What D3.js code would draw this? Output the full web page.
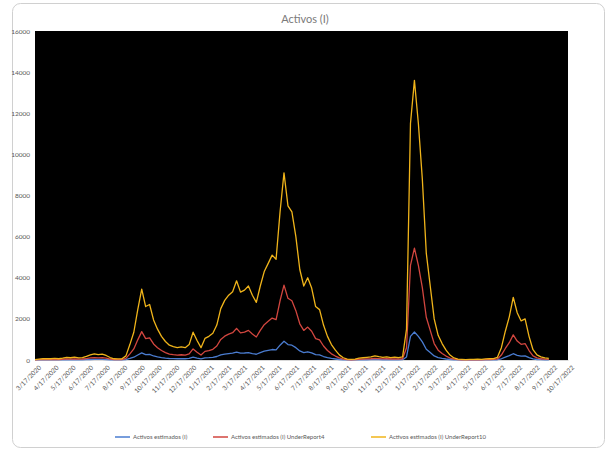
<!DOCTYPE html>
<html>
<head>
<meta charset="utf-8">
<script src="https://cdn.jsdelivr.net/npm/d3@7"></script>
<style>
  html, body { margin: 0; padding: 0; background: #ffffff; }
  svg { display: block; font-family: Lato, "Liberation Sans", sans-serif; }
</style>
</head>
<body>
<svg id="chart" width="607" height="451"></svg>
<script>
// Weekly samples (Tuesdays) starting 3/17/2020
const startDate = new Date(2020, 2, 17);
const endDate = new Date(2022, 8, 14);

const activos = [
  2, 4, 6, 7, 6, 8, 6, 9, 13, 11, 14, 10, 12, 18, 25, 30, 26, 29, 22, 12,
  6, 5, 6, 20, 75, 135, 245, 345, 260, 270, 195, 150, 115, 90, 72, 65, 60, 64, 60, 75,
  135, 95, 60, 105, 115, 130, 170, 250, 290, 315, 332, 385, 330, 340, 360, 315, 280, 360, 430, 470,
  510, 490, 720, 910, 750, 720, 600, 440, 360, 400, 350, 260, 245, 170, 115, 75, 48, 25, 11, 4,
  3, 4, 9, 11, 13, 15, 20, 16, 13, 15, 12, 14, 11, 15, 150, 1150, 1360, 1150, 880, 520,
  360, 200, 120, 80, 48, 24, 10, 4, 3, 2, 3, 3, 4, 3, 5, 6, 7, 13, 60, 140,
  210, 305, 230, 190, 200, 115, 50, 25, 15, 10, 8
];

const activosUR4 = [
  8, 16, 24, 28, 24, 32, 24, 36, 52, 44, 56, 40, 48, 72, 100, 120, 104, 116, 88, 48,
  24, 20, 24, 80, 300, 540, 980, 1380, 1040, 1080, 780, 600, 460, 360, 288, 260, 240, 256, 240, 300,
  540, 380, 240, 420, 460, 520, 680, 1000, 1160, 1260, 1328, 1540, 1320, 1360, 1440, 1260, 1120, 1440, 1720, 1880,
  2040, 1960, 2880, 3640, 3000, 2880, 2400, 1760, 1440, 1600, 1400, 1040, 980, 680, 460, 300, 192, 100, 44, 16,
  12, 16, 36, 44, 52, 60, 80, 64, 52, 60, 48, 56, 44, 60, 600, 4600, 5440, 4600, 3520, 2080,
  1440, 800, 480, 320, 192, 96, 40, 16, 12, 8, 12, 12, 16, 12, 20, 24, 28, 52, 240, 560,
  840, 1220, 920, 760, 800, 460, 200, 100, 60, 40, 32
];

const activosUR10 = [
  20, 40, 60, 70, 60, 80, 60, 90, 130, 110, 140, 100, 120, 180, 250, 300, 260, 290, 220, 120,
  60, 50, 60, 200, 750, 1350, 2450, 3450, 2600, 2700, 1950, 1500, 1150, 900, 720, 650, 600, 640, 600, 750,
  1350, 950, 600, 1050, 1150, 1300, 1700, 2500, 2900, 3150, 3320, 3850, 3300, 3400, 3600, 3150, 2800, 3600, 4300, 4700,
  5100, 4900, 7200, 9100, 7500, 7200, 6000, 4400, 3600, 4000, 3500, 2600, 2450, 1700, 1150, 750, 480, 250, 110, 40,
  30, 40, 90, 110, 130, 150, 200, 160, 130, 150, 120, 140, 110, 150, 1500, 11500, 13600, 11500, 8800, 5200,
  3600, 2000, 1200, 800, 480, 240, 100, 40, 30, 20, 30, 30, 40, 30, 50, 60, 70, 130, 600, 1400,
  2100, 3050, 2300, 1900, 2000, 1150, 500, 250, 150, 100, 80
];

const seriesNames = [
  "Activos estimados (I)",
  "Activos estimados (I) UnderReport4",
  "Activos estimados (I) UnderReport10"
];
const seriesColors = ["#4a7cd0", "#d2463f", "#f0b41a"];

const tickLabels = [
  "3/17/2020", "4/17/2020", "5/17/2020", "6/17/2020", "7/17/2020", "8/17/2020", "9/17/2020",
  "10/17/2020", "11/17/2020", "12/17/2020", "1/17/2021", "2/17/2021", "3/17/2021", "4/17/2021",
  "5/17/2021", "6/17/2021", "7/17/2021", "8/17/2021", "9/17/2021", "10/17/2021", "11/17/2021",
  "12/17/2021", "1/17/2022", "2/17/2022", "3/17/2022", "4/17/2022", "5/17/2022", "6/17/2022",
  "7/17/2022", "8/17/2022", "9/17/2022", "10/17/2022"
];
const yTicks = [0, 2000, 4000, 6000, 8000, 10000, 12000, 14000, 16000];

const parse = d3.timeParse("%m/%d/%Y");
const tickDates = tickLabels.map(parse);
const dates = d3.timeTuesday.range(startDate, endDate);

const svg = d3.select("#chart");
const plot = { left: 35, right: 568, top: 31, bottom: 360 };

// chart frame
svg.append("rect")
  .attr("x", 12.5).attr("y", 3.5)
  .attr("width", 592).attr("height", 444)
  .attr("rx", 8).attr("ry", 8)
  .attr("fill", "#ffffff").attr("stroke", "#d0d0d0").attr("stroke-width", 1);

svg.append("text")
  .attr("x", 305).attr("y", 23)
  .attr("text-anchor", "middle")
  .attr("fill", "#7a7a7a")
  .attr("font-size", 11)
  .text("Activos (I)");

const x = d3.scaleTime()
  .domain([tickDates[0], tickDates[tickDates.length - 1]])
  .range([plot.left, plot.right]);
const y = d3.scaleLinear()
  .domain([0, 16000])
  .range([plot.bottom, plot.top]);

svg.append("rect")
  .attr("x", plot.left).attr("y", plot.top)
  .attr("width", plot.right - plot.left).attr("height", plot.bottom - plot.top)
  .attr("fill", "#000000");

// y axis labels
const yAxis = svg.append("g")
  .attr("transform", `translate(${plot.left},0)`)
  .call(d3.axisLeft(y).tickValues(yTicks).tickFormat(d3.format("d")).tickSize(0).tickPadding(5));
yAxis.select(".domain").remove();
yAxis.selectAll("text").attr("fill", "#595959").attr("font-size", 6.5)
  .attr("font-family", "Lato, 'Liberation Sans', sans-serif");

// x axis
const xAxis = svg.append("g")
  .attr("transform", `translate(0,${plot.bottom})`)
  .call(d3.axisBottom(x).tickValues(tickDates).tickFormat((d, i) => tickLabels[i]).tickSize(0));
xAxis.select(".domain").attr("stroke", "#d9d9d9");
xAxis.selectAll("text")
  .attr("fill", "#595959").attr("font-size", 6.5)
  .attr("font-family", "Lato, 'Liberation Sans', sans-serif")
  .attr("text-anchor", "end")
  .attr("dy", 0)
  .attr("transform", "translate(4,6) rotate(-45)");

// lines
const allSeries = [activos, activosUR4, activosUR10];
const line = d3.line()
  .x(d => x(d.date))
  .y(d => y(d.value));

allSeries.forEach((vals, k) => {
  const pts = vals.map((v, i) => ({ date: dates[i], value: v })).filter(p => p.date);
  svg.append("path")
    .datum(pts)
    .attr("fill", "none")
    .attr("stroke", seriesColors[k])
    .attr("stroke-width", 1.3)
    .attr("stroke-linejoin", "round")
    .attr("d", line);
});

// legend
const legendX = [115, 213, 371];
const legend = svg.append("g");
seriesNames.forEach((name, k) => {
  const g = legend.append("g").attr("transform", `translate(${legendX[k]},437)`);
  g.append("line").attr("x1", 0).attr("x2", 15).attr("y1", 0).attr("y2", 0)
    .attr("stroke", seriesColors[k]).attr("stroke-width", 1.5);
  g.append("text").attr("x", 18).attr("y", 2.2)
    .attr("fill", "#595959").attr("font-size", 6)
    .text(name);
});
</script>
</body>
</html>
